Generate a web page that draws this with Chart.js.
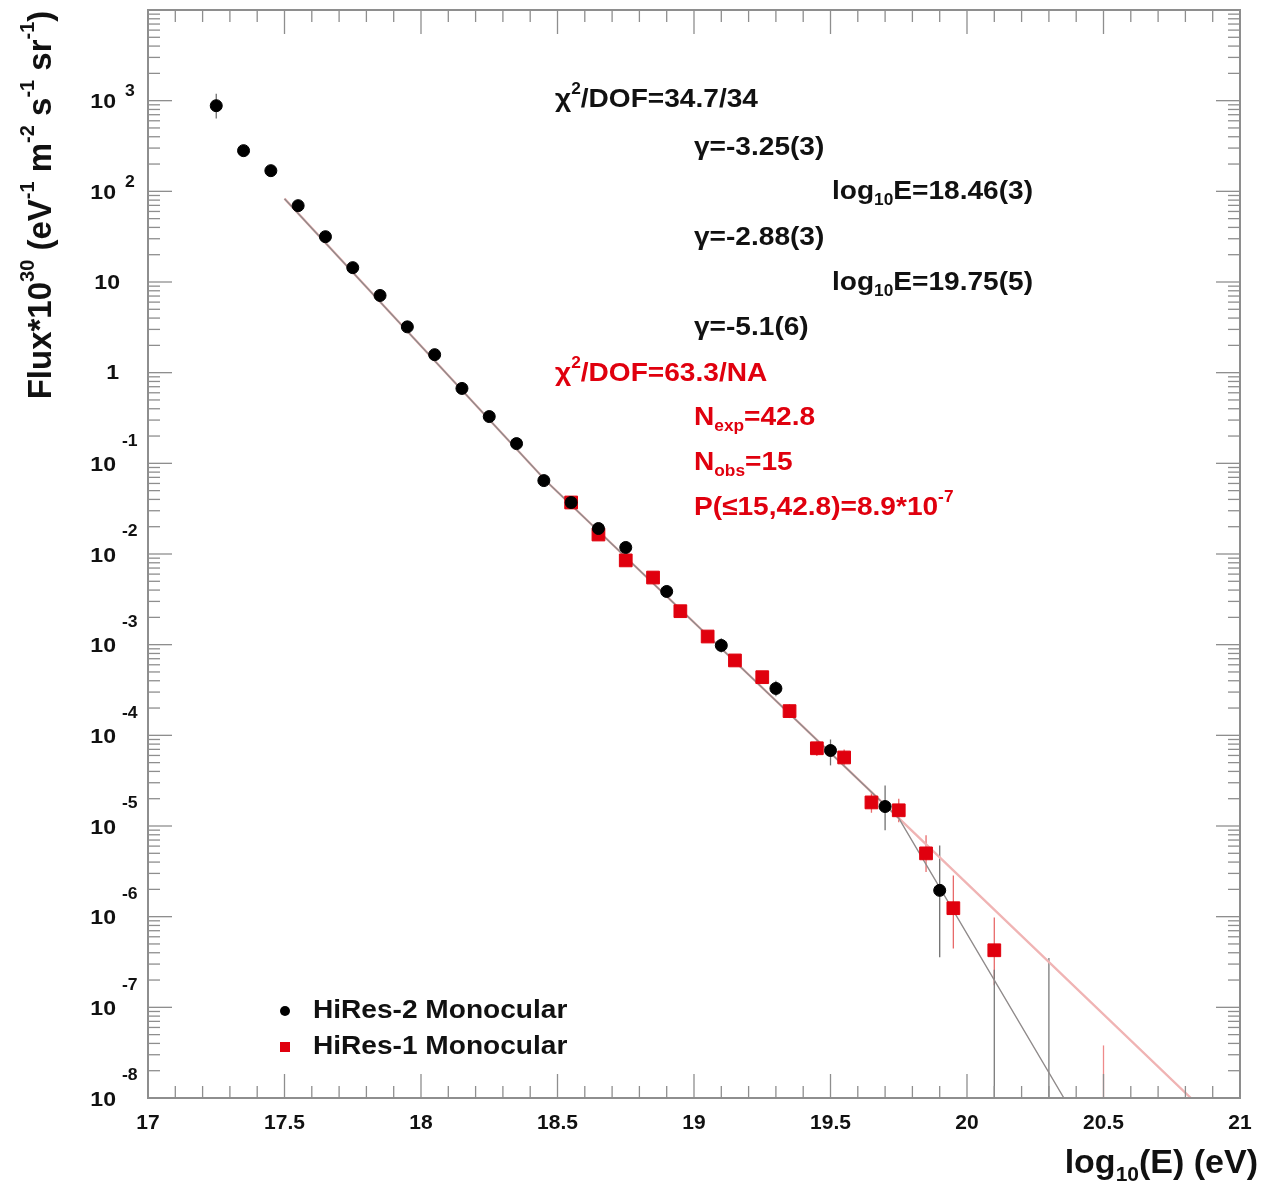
<!DOCTYPE html>
<html>
<head>
<meta charset="utf-8">
<script src="https://cdn.jsdelivr.net/npm/chart.js@4.4.0/dist/chart.umd.min.js"></script>
<style>
  body { margin: 0; background: #fff; }
  #wrap { width: 1270px; height: 1192px; }
</style>
</head>
<body>
<div id="wrap"><canvas id="c" width="1270" height="1192"></canvas></div>
<script>
// HiRes-2 monocular, black dots
const hr2E    = [17.25, 17.35, 17.45, 17.55, 17.65, 17.75, 17.85, 17.95, 18.05, 18.15, 18.25, 18.35, 18.45, 18.55, 18.65, 18.75, 18.9, 19.1, 19.3, 19.5, 19.7, 19.9];
const hr2Flux = [880, 281, 169, 69.5, 31.6, 14.4, 7.1, 3.2, 1.58, 0.67, 0.328, 0.165, 0.0645, 0.037, 0.0191, 0.0118, 0.00386, 0.00098, 3.29e-4, 6.8e-5, 1.64e-5, 1.95e-6];
// error bar ends (null = hidden under the marker)
const hr2Lo   = [634, null, null, null, null, null, null, null, null, null, null, null, null, null, null, null, 0.0033, 8.2e-4, 2.7e-4, 4.66e-5, 8.96e-6, 3.56e-7];
const hr2Hi   = [1194, null, null, null, null, null, null, null, null, null, null, null, null, null, null, null, 0.0045, 0.00118, 4.0e-4, 9.0e-5, 2.8e-5, 6.1e-6];
// HiRes-2 empty bins, upper limits
const hr2LimE   = [20.1, 20.3];
const hr2LimTop = [2.6e-7, 3.5e-7];

// HiRes-1 monocular, red squares
const hr1E    = [18.55, 18.65, 18.75, 18.85, 18.95, 19.05, 19.15, 19.25, 19.35, 19.45, 19.55, 19.65, 19.75, 19.85, 19.95, 20.1];
const hr1Flux = [0.037, 0.0164, 0.0085, 0.0055, 0.00234, 0.00123, 6.7e-4, 4.38e-4, 1.85e-4, 7.2e-5, 5.7e-5, 1.82e-5, 1.49e-5, 4.99e-6, 1.24e-6, 4.26e-7];
const hr1Lo   = [null, null, null, null, null, null, null, 3.8e-4, 1.55e-4, 5.9e-5, 4.6e-5, 1.4e-5, 1.1e-5, 3.1e-6, 4.45e-7, 1.75e-7];
const hr1Hi   = [null, null, null, null, null, null, null, 5.0e-4, 2.2e-4, 8.6e-5, 7.0e-5, 2.4e-5, 2.0e-5, 7.9e-6, 2.85e-6, 9.8e-7];
const hr1LimE   = [20.5];
const hr1LimTop = [3.8e-8];

// broken power law fit, and the same fit extrapolated without the last break
const fitE    = [17.5, 18.46, 19.75, 20.355];
const fitFlux = [83, 0.063, 1.22e-5, 1e-8];
const extE    = [17.5, 18.46, 19.75, 20.82];
const extFlux = [83, 0.063, 1.22e-5, 1e-8];

const xTickVals = [17, 17.5, 18, 18.5, 19, 19.5, 20, 20.5, 21];
const xTickText = ['17', '17.5', '18', '18.5', '19', '19.5', '20', '20.5', '21'];
const yDecades = [3, 2, 1, 0, -1, -2, -3, -4, -5, -6, -7, -8];

const FONT = '"Liberation Sans", Arial, sans-serif';
const RED = '#e0000e';
const FRAME = '#8e8e8e';

// fit results printed on the plot
const notes = [
  { x: 555, y: 100, c: '#111', parts: [['χ'], ['2', 'sup'], ['/DOF=34.7/34']] },
  { x: 694, y: 148, c: '#111', parts: [['γ=-3.25(3)']] },
  { x: 832, y: 192, c: '#111', parts: [['log'], ['10', 'sub'], ['E=18.46(3)']] },
  { x: 694, y: 238, c: '#111', parts: [['γ=-2.88(3)']] },
  { x: 832, y: 283, c: '#111', parts: [['log'], ['10', 'sub'], ['E=19.75(5)']] },
  { x: 694, y: 328, c: '#111', parts: [['γ=-5.1(6)']] },
  { x: 555, y: 374, c: RED, parts: [['χ'], ['2', 'sup'], ['/DOF=63.3/NA']] },
  { x: 694, y: 418, c: RED, parts: [['N'], ['exp', 'sub'], ['=42.8']] },
  { x: 694, y: 463, c: RED, parts: [['N'], ['obs', 'sub'], ['=15']] },
  { x: 694, y: 508, c: RED, parts: [['P(≤15,42.8)=8.9*10'], ['-7', 'sup']] }
];

function pts(xs, ys) { return xs.map((x, i) => ({ x: x, y: ys[i] })); }

// text with sub/superscripts, sx stretches it sideways like the ROOT fonts
function rich(ctx, parts, x, y, size, color, align, sx) {
  sx = sx || 1;
  ctx.save();
  ctx.fillStyle = color;
  ctx.textBaseline = 'middle';
  ctx.textAlign = 'left';
  const sizes = parts.map(p => p[1] ? Math.round(size * 0.62) : size);
  let w = 0;
  parts.forEach((p, i) => { ctx.font = 'bold ' + sizes[i] + 'px ' + FONT; w += ctx.measureText(p[0]).width; });
  w *= sx;
  const x0 = align === 'right' ? x - w : (align === 'center' ? x - w / 2 : x);
  ctx.translate(x0, y);
  ctx.scale(sx, 1);
  let cx = 0;
  parts.forEach((p, i) => {
    ctx.font = 'bold ' + sizes[i] + 'px ' + FONT;
    const dy = p[1] === 'sup' ? -size * 0.4 : (p[1] === 'sub' ? size * 0.33 : 0);
    ctx.fillText(p[0], cx, dy);
    cx += ctx.measureText(p[0]).width;
  });
  ctx.restore();
}

function seg(ctx, x1, y1, x2, y2) {
  ctx.beginPath(); ctx.moveTo(x1, y1); ctx.lineTo(x2, y2); ctx.stroke();
}

const rootStyle = {
  id: 'rootStyle',
  beforeDatasetsDraw(chart) {
    const ctx = chart.ctx, ya = chart.scales.y, a = chart.chartArea;
    ctx.save();
    chart.data.datasets.forEach((ds, di) => {
      if (!ds.errColor) return;
      const meta = chart.getDatasetMeta(di);
      ctx.strokeStyle = ds.errColor;
      ctx.lineWidth = 1.3;
      meta.data.forEach((el, i) => {
        if (ds.limit) {
          seg(ctx, el.x, el.y, el.x, a.bottom);
        } else if (ds.errLo[i] !== null) {
          seg(ctx, el.x, ya.getPixelForValue(ds.errHi[i]), el.x, ya.getPixelForValue(ds.errLo[i]));
        }
      });
    });
    ctx.restore();
  },
  afterDraw(chart) {
    const ctx = chart.ctx, xa = chart.scales.x, ya = chart.scales.y, a = chart.chartArea;
    ctx.save();
    // frame
    ctx.strokeStyle = FRAME;
    ctx.lineWidth = 2;
    ctx.strokeRect(a.left, a.top, a.right - a.left, a.bottom - a.top);
    ctx.lineWidth = 1.3;
    // x ticks, bottom and top
    for (let i = 0; i <= 40; i++) {
      const px = xa.getPixelForValue(17 + i * 0.1);
      const len = i % 5 === 0 ? 24 : 12;
      seg(ctx, px, a.bottom, px, a.bottom - len);
      seg(ctx, px, a.top, px, a.top + len);
    }
    // y ticks, left and right
    for (let d = -8; d <= 3; d++) {
      for (let k = 1; k <= 10; k++) {
        const v = k * Math.pow(10, d);
        if (k === 10 && d !== 3) continue;
        const py = ya.getPixelForValue(v);
        const len = (k === 1 || k === 10) ? 24 : 12;
        seg(ctx, a.left, py, a.left + len, py);
        seg(ctx, a.right, py, a.right - len, py);
      }
    }
    // x labels
    xTickVals.forEach((v, i) => {
      rich(ctx, [[xTickText[i]]], xa.getPixelForValue(v), a.bottom + 25, 20, '#111', 'center', 1.05);
    });
    // y labels
    yDecades.forEach(e => {
      const py = ya.getPixelForValue(Math.pow(10, e));
      if (e === 0) { rich(ctx, [['1']], 119, py + 1, 21, '#111', 'right', 1.1); return; }
      if (e === 1) { rich(ctx, [['10']], 120, py + 1, 21, '#111', 'right', 1.1); return; }
      rich(ctx, [['10']], 116, py + 2, 21, '#111', 'right', 1.1);
      rich(ctx, [[String(e)]], e > 0 ? 125 : 122, py + (e > 0 ? -9 : -22), 16, '#111', 'left', 1.1);
    });
    // axis titles
    rich(ctx, [['log'], ['10', 'sub'], ['(E) (eV)']], 1258, 1164, 34, '#111', 'right');
    ctx.save();
    ctx.translate(42, 205);
    ctx.rotate(-Math.PI / 2);
    rich(ctx, [['Flux*10'], ['30', 'sup'], [' (eV'], ['-1', 'sup'], [' m'], ['-2', 'sup'], [' s'], ['-1', 'sup'], [' sr'], ['-1', 'sup'], [')']], 0, 0, 33, '#111', 'center');
    ctx.restore();
    // fit annotations
    notes.forEach(n => rich(ctx, n.parts, n.x, n.y, 26, n.c, 'left', 1.08));
    // legend
    const items = chart.data.datasets.filter(ds => ds.inLegend);
    items.forEach((ds, i) => {
      const y = 1011 + i * 36;
      ctx.fillStyle = ds.backgroundColor;
      if (ds.pointStyle === 'rect') ctx.fillRect(280, y - 5, 10, 10);
      else { ctx.beginPath(); ctx.arc(285, y, 5, 0, Math.PI * 2); ctx.fill(); }
      rich(ctx, [[ds.label]], 313, y, 26, '#111', 'left', 1.08);
    });
    ctx.restore();
  }
};

new Chart(document.getElementById('c'), {
  type: 'scatter',
  data: {
    datasets: [
      {
        label: 'HiRes-2 Monocular', data: pts(hr2E, hr2Flux), inLegend: true,
        backgroundColor: '#000', borderColor: '#000', pointRadius: 6, pointStyle: 'circle',
        errColor: '#707070', errLo: hr2Lo, errHi: hr2Hi, order: 0
      },
      {
        label: 'HiRes-1 Monocular', data: pts(hr1E, hr1Flux), inLegend: true,
        backgroundColor: RED, borderColor: RED, pointRadius: 9, pointStyle: 'rect',
        errColor: '#e86a6a', errLo: hr1Lo, errHi: hr1Hi, order: 1
      },
      {
        label: 'HiRes-2 limits', data: pts(hr2LimE, hr2LimTop), pointRadius: 0,
        errColor: '#7a7a7a', limit: true, order: 2
      },
      {
        label: 'HiRes-1 limits', data: pts(hr1LimE, hr1LimTop), pointRadius: 0,
        errColor: '#ee8a8a', limit: true, order: 2
      },
      {
        label: 'fit', data: pts(fitE, fitFlux), showLine: true, pointRadius: 0,
        borderColor: '#8f8a8a', borderWidth: 1.4, order: 3
      },
      {
        label: 'no cutoff', data: pts(extE, extFlux), showLine: true, pointRadius: 0,
        borderColor: '#f0b4b4', borderWidth: 2.4, order: 4
      }
    ]
  },
  options: {
    responsive: false,
    animation: false,
    layout: { padding: { left: 148, top: 8, right: 30, bottom: 94 } },
    scales: {
      x: { type: 'linear', min: 17, max: 21, display: false },
      y: { type: 'logarithmic', min: 1e-8, max: 1e4, display: false }
    },
    plugins: { legend: { display: false }, tooltip: { enabled: false } }
  },
  plugins: [rootStyle]
});
</script>
</body>
</html>
